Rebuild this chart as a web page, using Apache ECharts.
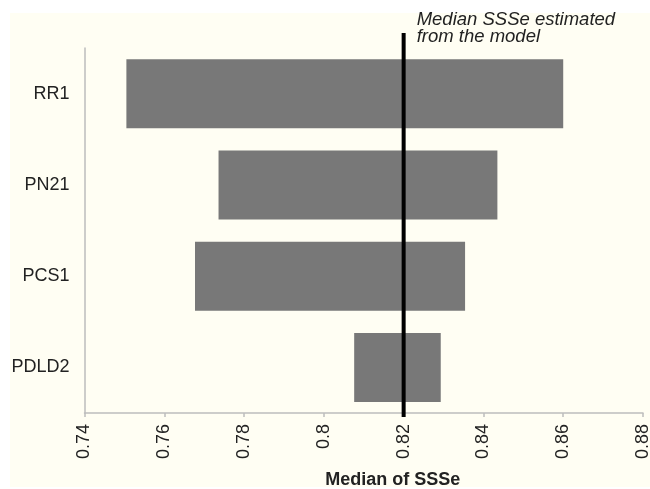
<!DOCTYPE html>
<html>
<head>
<meta charset="utf-8">
<script src="https://cdn.jsdelivr.net/npm/echarts@6/dist/echarts.min.js"></script>
<style>html,body{margin:0;padding:0;background:#fff;}#c{width:650px;height:489px;}</style>
</head>
<body>
<div id="c"></div>
<script>
const categories = ['RR1', 'PN21', 'PCS1', 'PDLD2'];
const lowValues = [0.7505, 0.7736, 0.7677, 0.8076];
const highValues = [0.8600, 0.8435, 0.8354, 0.8293];
const medianValue = 0.82;
const xTicks = [0.74, 0.76, 0.78, 0.80, 0.82, 0.84, 0.86, 0.88];
const annotationLines = ['Median SSSe estimated', 'from the model'];

const chart = echarts.init(document.getElementById('c'));
const rangeValues = highValues.map((h, i) => +(h - lowValues[i]).toFixed(6));

chart.setOption({
  animation: false,
  backgroundColor: '#ffffff',
  textStyle: { fontFamily: 'Liberation Sans, Arial, sans-serif' },
  grid: { left: 84.5, right: 7, top: 48, bottom: 76, containLabel: false, outerBoundsMode: 'none' },
  xAxis: {
    type: 'value',
    min: xTicks[0], max: xTicks[xTicks.length - 1], interval: 0.02,
    axisLine: { show: true, lineStyle: { color: '#bdbdbd', width: 1.5 } },
    axisTick: { show: true, length: 4, lineStyle: { color: '#bdbdbd', width: 1.5 } },
    splitLine: { show: false },
    axisLabel: {
      rotate: 90, fontSize: 18, color: '#222', margin: 11,
      formatter: v => String(+v.toFixed(2))
    },
    name: 'Median of SSSe', nameLocation: 'middle', nameGap: 58,
    nameTextStyle: { fontSize: 18, fontWeight: 'bold', color: '#222', padding: [0, 0, 0, 58] }
  },
  yAxis: {
    type: 'category', data: categories, inverse: true,
    axisLine: { show: true, lineStyle: { color: '#bdbdbd', width: 1.5 } },
    axisTick: { show: false },
    axisLabel: { fontSize: 18, color: '#222', margin: 15 }
  },
  series: [
    {
      type: 'bar', stack: 'r', data: lowValues, barWidth: 69,
      itemStyle: { color: 'transparent' }, silent: true
    },
    {
      type: 'bar', stack: 'r', data: rangeValues, barWidth: 69,
      itemStyle: { color: '#787878' }
    }
  ]
});

function drawOverlay() {
  const x = chart.convertToPixel({ xAxisIndex: 0 }, medianValue);
  chart.setOption({
    graphic: [
      { type: 'rect', z: -100, silent: true, shape: { x: 10, y: 13, width: 640, height: 474 }, style: { fill: '#fffef3' } },
      { type: 'line', z: 100, shape: { x1: x, y1: 33, x2: x, y2: 417 }, style: { stroke: '#000', lineWidth: 4 } },
      { type: 'text', z: 100, x: x + 13, y: 11, style: { text: annotationLines.join('\n'), fontSize: 18.5, fontStyle: 'italic', fill: '#222', lineHeight: 17, fontFamily: 'Liberation Sans, Arial, sans-serif' } }
    ]
  });
}
drawOverlay();
</script>
</body>
</html>
